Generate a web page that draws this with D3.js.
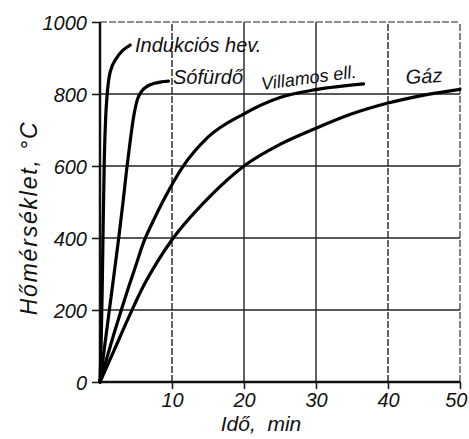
<!DOCTYPE html>
<html>
<head>
<meta charset="utf-8">
<script src="https://cdn.jsdelivr.net/npm/d3@7"></script>
<style>
  html, body { margin: 0; padding: 0; background: #fff; }
  svg { display: block; }
  text { font-family: "Liberation Sans", Arial, sans-serif; font-style: italic; fill: #111; }
</style>
</head>
<body>
<svg id="chart" width="469" height="439"></svg>
<script>
// ---- data (time in min, temperature in °C) ----
const xTicks = [10, 20, 30, 40, 50];
const yTicks = [0, 200, 400, 600, 800, 1000];

const indukTime = [0, 0.15, 0.3, 0.45, 0.6, 0.8, 1.0, 1.4, 2.3, 3.2, 4.2];
const indukTemp = [0, 100, 250, 450, 620, 740, 800, 860, 900, 922, 936];

const sofurdoTime = [0, 1.3, 2.6, 3.2, 3.7, 4.2, 4.7, 5.2, 5.8, 6.6, 7.6, 8.6, 9.5];
const sofurdoTemp = [0, 200, 400, 500, 590, 670, 740, 785, 808, 822, 830, 834, 836];

const villamosTime = [0, 1, 2, 3, 4, 5, 6, 7.4, 9, 11.4, 15, 20, 25, 30, 36.6];
const villamosTemp = [0, 70, 138, 203, 265, 325, 385, 448, 512, 595, 680, 745, 790, 812, 828];

const gazTime = [0, 2, 4, 6, 8, 10, 15, 20, 25, 30, 35, 40, 45, 50];
const gazTemp = [0, 90, 180, 265, 335, 395, 510, 600, 660, 705, 745, 775, 797, 813];

const seriesNames = ["Indukciós hev.", "Sófürdő", "Villamos ell.", "Gáz"];

// ---- chart ----
const svg = d3.select("#chart");
const x = d3.scaleLinear().domain([0, 50]).range([100, 460]);
const y = d3.scaleLinear().domain([0, 1000]).range([382, 22]);

// grid
const g = svg.append("g");
g.selectAll(".vgrid").data(xTicks).join("line")
  .attr("x1", d => x(d)).attr("x2", d => x(d))
  .attr("y1", y(0)).attr("y2", y(1000))
  .attr("stroke", "#222")
  .attr("stroke-width", d => (d === 50 ? 1.1 : 1.4))
  .attr("stroke-dasharray", d => (d === 50 || d === 40 || d === 10) ? "7 2" : null);
g.selectAll(".hgrid").data(yTicks.filter(d => d > 0)).join("line")
  .attr("x1", x(0)).attr("x2", x(50))
  .attr("y1", d => y(d)).attr("y2", d => y(d))
  .attr("stroke", "#222")
  .attr("stroke-width", d => (d === 1000 ? 1.1 : 1.5))
  .attr("stroke-dasharray", d => d === 1000 ? "7 2" : null);

// axes
const yAxis = d3.axisLeft(y).tickValues(yTicks).tickSize(8).tickPadding(6)
  .tickFormat(d3.format("d"));
const ya = svg.append("g").attr("transform", `translate(${x(0)},0)`).call(yAxis);
const xAxis = d3.axisBottom(x).tickValues(xTicks).tickSize(7).tickPadding(6)
  .tickFormat(d3.format("d"));
const xa = svg.append("g").attr("transform", `translate(0,${y(0)})`).call(xAxis);

[ya, xa].forEach(a => {
  a.select(".domain").remove();
  a.selectAll(".tick line").attr("stroke", "#111").attr("stroke-width", 1.5);
  a.selectAll(".tick text").style("font-size", "20px").attr("fill", "#111");
});
ya.selectAll(".tick text").attr("x", -13).attr("dy", "0.36em");
xa.selectAll(".tick text").attr("y", 25).attr("dy", 0)
  .attr("text-anchor", d => d === 50 ? "end" : "middle")
  .attr("x", d => d === 50 ? 7 : 0);

// axis lines
svg.append("line").attr("x1", x(0)).attr("x2", x(0)).attr("y1", y(0) + 1).attr("y2", y(1000))
  .attr("stroke", "#111").attr("stroke-width", 2.5);
svg.append("line").attr("x1", x(0) - 1).attr("x2", x(50)).attr("y1", y(0)).attr("y2", y(0))
  .attr("stroke", "#111").attr("stroke-width", 2.5);

// curves
const line = d3.line().x(d => x(d[0])).y(d => y(d[1])).curve(d3.curveMonotoneX);
const seriesData = [
  d3.zip(indukTime, indukTemp),
  d3.zip(sofurdoTime, sofurdoTemp),
  d3.zip(villamosTime, villamosTemp),
  d3.zip(gazTime, gazTemp)
];
svg.append("g").selectAll("path").data(seriesData).join("path")
  .attr("d", line)
  .attr("fill", "none")
  .attr("stroke", "#000")
  .attr("stroke-width", 3.2)
  .attr("stroke-linecap", "round")
  .attr("stroke-linejoin", "round");

// curve labels
const labels = [
  { name: seriesNames[0], x: 135, y: 52, rot: 0, size: 20 },
  { name: seriesNames[1], x: 173, y: 84, rot: 0, size: 20 },
  { name: seriesNames[2], x: 262, y: 90, rot: -7.5, size: 18 },
  { name: seriesNames[3], x: 406, y: 84, rot: -3, size: 20 }
];
svg.append("g").selectAll("text").data(labels).join("text")
  .attr("transform", d => `translate(${d.x},${d.y}) rotate(${d.rot})`)
  .style("font-size", d => d.size + "px")
  .text(d => d.name);

// axis titles
svg.append("text")
  .attr("x", 261).attr("y", 431)
  .attr("text-anchor", "middle")
  .style("font-size", "21px")
  .style("white-space", "pre")
  .text("Idő,  min");

svg.append("text")
  .attr("transform", "translate(37,218) rotate(-90)")
  .attr("text-anchor", "middle")
  .style("font-size", "23px")
  .style("letter-spacing", "1.8px")
  .text("Hőmérséklet, °C");
</script>
</body>
</html>
